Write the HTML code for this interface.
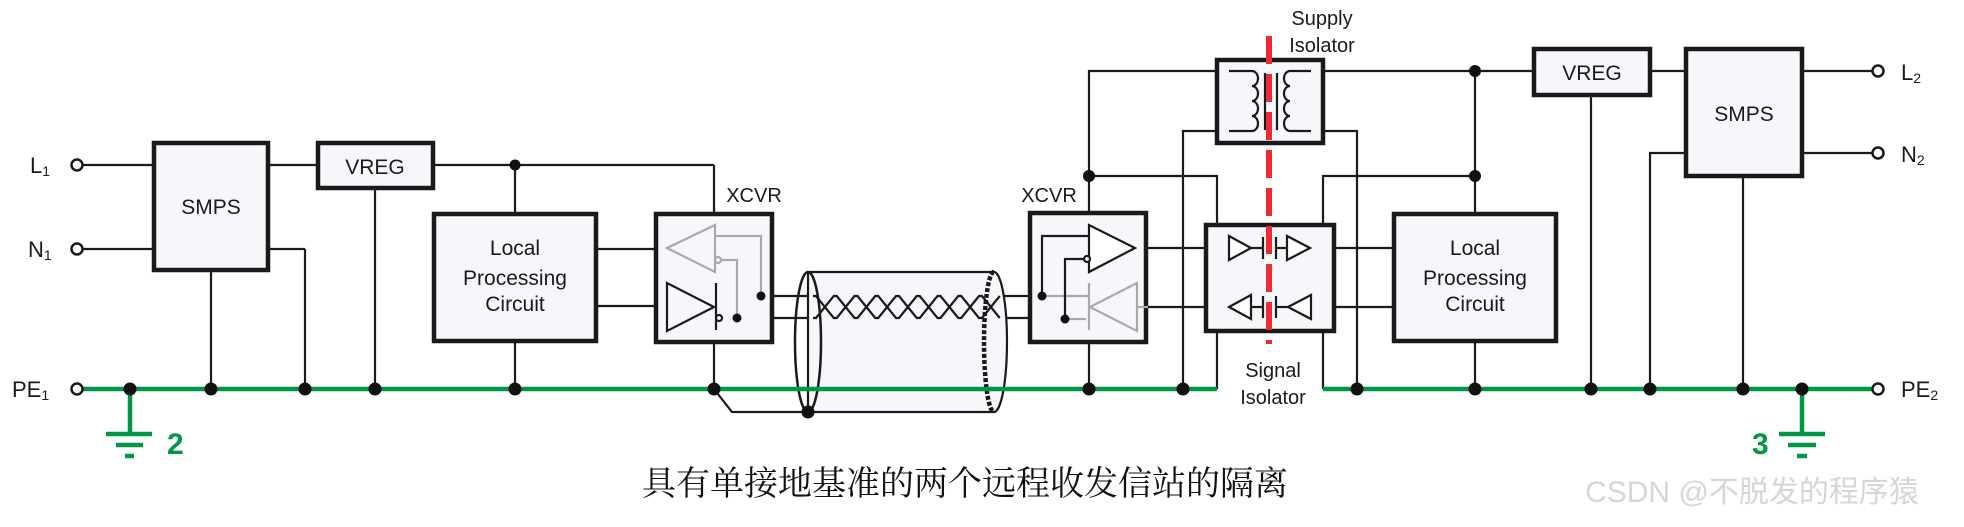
<!DOCTYPE html>
<html><head><meta charset="utf-8"><style>
html,body{margin:0;padding:0;background:#fff;}
svg{display:block;}
text{font-family:"Liberation Sans",Arial,sans-serif;fill:#1a1a1a;}
</style></head><body>
<svg width="1964" height="527" viewBox="0 0 1964 527" xmlns="http://www.w3.org/2000/svg">
<g fill="none" stroke="#1a1a1a" stroke-width="2.2">
<line x1="82" y1="165" x2="152" y2="165"/>
<line x1="82" y1="249" x2="152" y2="249"/>
<line x1="270" y1="165" x2="316" y2="165"/>
<line x1="435" y1="165" x2="714" y2="165"/>
<line x1="714" y1="165" x2="714" y2="212"/>
<line x1="515" y1="165" x2="515" y2="212"/>
<line x1="270" y1="249" x2="305" y2="249"/>
<line x1="305" y1="249" x2="305" y2="389"/>
<line x1="211" y1="272" x2="211" y2="389"/>
<line x1="375" y1="190" x2="375" y2="389"/>
<line x1="515" y1="343" x2="515" y2="389"/>
<line x1="714" y1="344" x2="714" y2="389"/>
<line x1="598" y1="249" x2="654" y2="249"/>
<line x1="598" y1="306" x2="667" y2="306"/>
<polyline points="714,389 732,412 808,412"/>
<line x1="716" y1="296" x2="813" y2="296"/>
<line x1="716" y1="318" x2="813" y2="318"/>
<line x1="1003" y1="296" x2="1089" y2="296"/>
<line x1="1003" y1="318" x2="1089" y2="318"/>
<polyline points="1089,211 1089,71 1216,71"/>
<polyline points="1089,176 1217,176 1217,223"/>
<line x1="1089" y1="344" x2="1089" y2="389"/>
<polyline points="1216,131 1183,131 1183,389"/>
<polyline points="1324,131 1357,131 1357,389"/>
<line x1="1324" y1="71" x2="1532" y2="71"/>
<polyline points="1323,223 1323,176 1475,176"/>
<line x1="1475" y1="71" x2="1475" y2="212"/>
<line x1="1217" y1="333" x2="1217" y2="389"/>
<line x1="1323" y1="333" x2="1323" y2="389"/>
<line x1="1135" y1="248" x2="1229" y2="248"/>
<line x1="1148" y1="307" x2="1229" y2="307"/>
<line x1="1310" y1="248" x2="1392" y2="248"/>
<line x1="1311" y1="307" x2="1392" y2="307"/>
<line x1="1475" y1="343" x2="1475" y2="389"/>
<line x1="1652" y1="71" x2="1684" y2="71"/>
<line x1="1591" y1="97" x2="1591" y2="389"/>
<polyline points="1684,153 1650,153 1650,389"/>
<line x1="1743" y1="178" x2="1743" y2="389"/>
<line x1="1804" y1="71" x2="1872" y2="71"/>
<line x1="1804" y1="153" x2="1872" y2="153"/>
</g>
<path d="M808,272 L994,272 A13,70 0 0 1 994,412 L808,412 Z" fill="#f6f7fa" stroke="#1a1a1a" stroke-width="2.2"/>
<ellipse cx="808" cy="342" rx="13" ry="70" fill="none" stroke="#1a1a1a" stroke-width="2.5"/>
<path d="M994,272 A10,70 0 0 0 994,412" fill="none" stroke="#1a1a1a" stroke-width="4.5" stroke-dasharray="4,2"/>
<g fill="none" stroke="#1a1a1a" stroke-width="2.2">
<path d="M813,296 h3 l17.75,22 h3 l17.75,-22 h3 l17.75,22 h3 l17.75,-22 h3 l17.75,22 h3 l17.75,-22 h3 l17.75,22 h3 l17.75,-22 h3 l17.75,22"/>
<path d="M813,318 h3 l17.75,-22 h3 l17.75,22 h3 l17.75,-22 h3 l17.75,22 h3 l17.75,-22 h3 l17.75,22 h3 l17.75,-22 h3 l17.75,22 h3 l17.75,-22"/>
</g>
<g stroke="#009645" stroke-width="4.5" fill="none">
<line x1="82" y1="389" x2="1217" y2="389"/>
<line x1="1323" y1="389" x2="1872" y2="389"/>
<line x1="130" y1="389" x2="130" y2="432"/>
<line x1="106" y1="434" x2="152" y2="434"/>
<line x1="116" y1="445" x2="143" y2="445"/>
<line x1="125" y1="456" x2="134" y2="456"/>
<line x1="1802" y1="389" x2="1802" y2="432"/>
<line x1="1779" y1="434" x2="1825" y2="434"/>
<line x1="1788" y1="445" x2="1816" y2="445"/>
<line x1="1797" y1="456" x2="1807" y2="456"/>
</g>
<text x="167" y="454" style="font-size:30px;font-weight:bold;fill:#009645">2</text>
<text x="1752" y="454" style="font-size:30px;font-weight:bold;fill:#009645">3</text>
<g fill="#f6f7fa" stroke="#1a1a1a" stroke-width="4.5">
<rect x="154" y="143" width="114" height="127"/>
<rect x="318" y="143" width="115" height="45"/>
<rect x="434" y="214" width="162" height="127"/>
<rect x="656" y="214" width="116" height="128"/>
<rect x="1030" y="213" width="116" height="129"/>
<rect x="1217" y="60" width="106" height="83"/>
<rect x="1206" y="225" width="128" height="106"/>
<rect x="1394" y="214" width="162" height="127"/>
<rect x="1534" y="49" width="116" height="46"/>
<rect x="1686" y="49" width="116" height="127"/>
</g>
<g fill="none" stroke="#aaa" stroke-width="2.2">
<polygon points="667,248 715,225 715,272" fill="#f6f7fa"/>
<polyline points="715,236 761,236 761,296"/>
<polyline points="720,260 737,260 737,318"/>
<circle cx="718" cy="260" r="3" fill="#fff"/>
</g>
<g fill="none" stroke="#1a1a1a" stroke-width="2.2">
<polygon points="667,283 667,331 714,307"/>
<line x1="716" y1="283" x2="716" y2="330"/>
<circle cx="719" cy="318" r="3" fill="#fff"/>
</g>
<g fill="none" stroke="#aaa" stroke-width="2.2">
<polygon points="1090,307 1137,283 1137,331" fill="#f6f7fa"/>
<line x1="1089" y1="283" x2="1089" y2="330"/>
<line x1="1042" y1="296" x2="1089" y2="296"/>
<line x1="1065" y1="319" x2="1086" y2="319"/>
<line x1="1137" y1="307" x2="1148" y2="307"/>
</g>
<g fill="none" stroke="#1a1a1a" stroke-width="2.2">
<polygon points="1089,225 1089,272 1135,248" fill="#fff"/>
<polyline points="1042,296 1042,236 1089,236"/>
<polyline points="1065,319 1065,259 1085,259"/>
<circle cx="1087" cy="259" r="3" fill="#fff"/>
<polygon points="1229,236 1229,260 1251,248" fill="#fff"/>
<line x1="1251" y1="248" x2="1263" y2="248"/>
<line x1="1263" y1="237" x2="1263" y2="259"/><line x1="1276" y1="237" x2="1276" y2="259"/>
<line x1="1276" y1="248" x2="1287" y2="248"/>
<polygon points="1287,236 1287,260 1310,248" fill="#fff"/>
<polygon points="1229,307 1251,295 1251,319" fill="#fff"/>
<line x1="1251" y1="307" x2="1263" y2="307"/>
<line x1="1263" y1="296" x2="1263" y2="318"/><line x1="1276" y1="296" x2="1276" y2="318"/>
<line x1="1276" y1="307" x2="1288" y2="307"/>
<polygon points="1288,307 1311,295 1311,319" fill="#fff"/>
<polyline points="1229,71 1252,71"/>
<polyline points="1229,131 1252,131"/>
<path d="M1252,71 a6,7.5 0 0 1 0,15 a6,7.5 0 0 1 0,15 a6,7.5 0 0 1 0,15 a6,7.5 0 0 1 0,15"/>
<line x1="1265" y1="73" x2="1265" y2="130"/><line x1="1277" y1="73" x2="1277" y2="130"/>
<polyline points="1290,71 1311,71"/>
<polyline points="1290,131 1311,131"/>
<path d="M1290,71 a6,7.5 0 0 0 0,15 a6,7.5 0 0 0 0,15 a6,7.5 0 0 0 0,15 a6,7.5 0 0 0 0,15"/>
</g>
<line x1="1269" y1="36" x2="1269" y2="344" stroke="#ee2a33" stroke-width="6" stroke-dasharray="28,10"/>
<g fill="#fff" stroke="#1a1a1a" stroke-width="2.5">
<circle cx="77" cy="165" r="5.5"/><circle cx="77" cy="249" r="5.5"/><circle cx="77" cy="389" r="5.5"/>
<circle cx="1878" cy="71" r="5.5"/><circle cx="1878" cy="153" r="5.5"/><circle cx="1878" cy="389" r="5.5"/>
</g>
<g fill="#111">
<circle cx="515" cy="165" r="5.5"/>
<circle cx="130" cy="389" r="6.5"/><circle cx="211" cy="389" r="6.5"/><circle cx="305" cy="389" r="6.5"/>
<circle cx="375" cy="389" r="6.5"/><circle cx="515" cy="389" r="6.5"/><circle cx="714" cy="389" r="6.5"/>
<circle cx="808" cy="412" r="6.5"/>
<circle cx="761" cy="296" r="4.5"/><circle cx="737" cy="318" r="4.5"/>
<circle cx="1042" cy="296" r="4.5"/><circle cx="1065" cy="319" r="4.5"/>
<circle cx="1089" cy="176" r="6"/>
<circle cx="1089" cy="389" r="6.5"/><circle cx="1183" cy="389" r="6.5"/><circle cx="1357" cy="389" r="6.5"/>
<circle cx="1475" cy="71" r="6"/><circle cx="1475" cy="176" r="6"/>
<circle cx="1475" cy="389" r="6.5"/><circle cx="1591" cy="389" r="6.5"/><circle cx="1650" cy="389" r="6.5"/>
<circle cx="1743" cy="389" r="6.5"/><circle cx="1802" cy="389" r="6.5"/>
</g>
<g style="font-size:22px">
<text x="30" y="173">L<tspan style="font-size:14px" dy="3">1</tspan></text>
<text x="28" y="257">N<tspan style="font-size:14px" dy="3">1</tspan></text>
<text x="12" y="397">PE<tspan style="font-size:14px" dy="3">1</tspan></text>
<text x="1901" y="80">L<tspan style="font-size:14px" dy="3">2</tspan></text>
<text x="1901" y="162">N<tspan style="font-size:14px" dy="3">2</tspan></text>
<text x="1901" y="397">PE<tspan style="font-size:14px" dy="3">2</tspan></text>
</g>
<g style="font-size:21px" text-anchor="middle">
<text x="211" y="214">SMPS</text>
<text x="375" y="174">VREG</text>
<text x="1592" y="80">VREG</text>
<text x="1744" y="121">SMPS</text>
<text x="515" y="255">Local</text>
<text x="515" y="285">Processing</text>
<text x="515" y="311">Circuit</text>
<text x="1475" y="255">Local</text>
<text x="1475" y="285">Processing</text>
<text x="1475" y="311">Circuit</text>
<text x="754" y="202" style="font-size:20px">XCVR</text>
<text x="1049" y="202" style="font-size:20px">XCVR</text>
<text x="1322" y="25" style="font-size:20px">Supply</text>
<text x="1322" y="52" style="font-size:20px">Isolator</text>
<text x="1273" y="377" style="font-size:20px">Signal</text>
<text x="1273" y="404" style="font-size:20px">Isolator</text>
</g>
<text x="965" y="495" text-anchor="middle" style="font-family:'Noto Serif CJK SC','Liberation Serif',serif;font-size:34px;fill:#111">具有单接地基准的两个远程收发信站的隔离</text>
<text x="1752" y="502" text-anchor="middle" style="font-family:'Liberation Sans','Noto Sans CJK SC',sans-serif;font-size:30px;fill:#d6d6d6">CSDN @不脱发的程序猿</text>
</svg>
</body></html>
